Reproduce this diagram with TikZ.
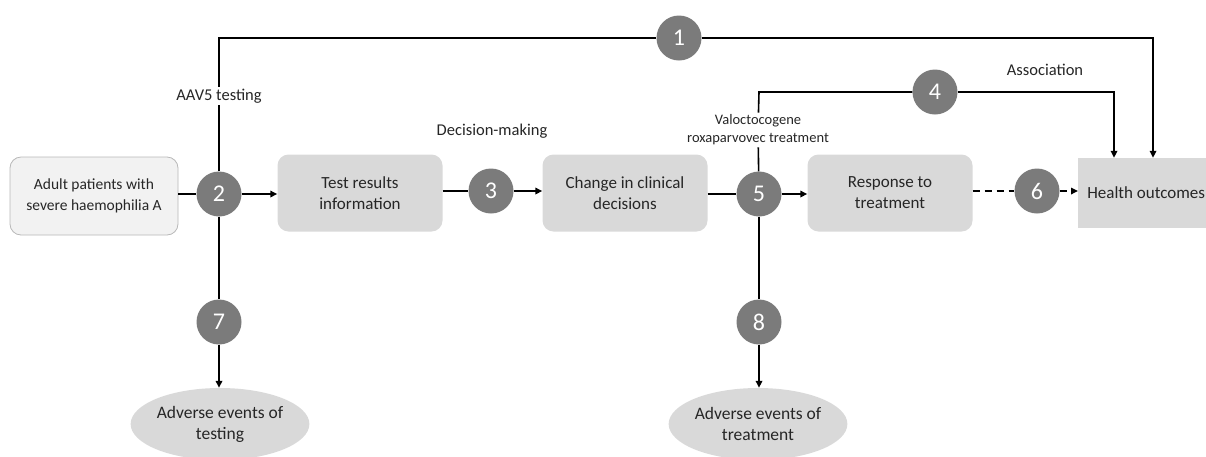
\documentclass[tikz,border=0pt]{standalone}
\usepackage{fontspec}
\setmainfont{Carlito}
\usetikzlibrary{arrows.meta,shapes.geometric}
\definecolor{boxgray}{HTML}{D9D9D9}
\definecolor{circgray}{HTML}{7B7B7B}
\definecolor{txt}{HTML}{262626}
\begin{document}
\begin{tikzpicture}[x=1pt,y=-1pt,
  box/.style={fill=boxgray,rounded corners=11pt,minimum width=165pt,minimum height=77pt,align=center,font=\fontsize{17}{21}\selectfont,text=txt},
  num/.style={circle,fill=circgray,minimum size=45pt,inner sep=0pt,text=white,font=\fontsize{24}{26}\selectfont},
  aev/.style={ellipse,fill=boxgray,minimum width=168pt,minimum height=72pt,inner sep=0pt,align=center,font=\fontsize{17.5}{21}\selectfont,text=txt},
  lbl/.style={fill=white,inner sep=2pt,align=center,text=txt,font=\fontsize{16.5}{19}\selectfont},
  conn/.style={line width=1.6pt,black},
  arr/.style={conn,-{Triangle[length=7pt,width=6.5pt]}}
]
\useasboundingbox (0,0) rectangle (1206,456);
% nodes
\node[box,fill=black!5,draw=black!28,line width=0.8pt,minimum width=168pt,minimum height=78pt,font=\fontsize{15.5}{21}\selectfont] (pat) at (94,196) {Adult patients with\\severe haemophilia A};
\node[box] (test) at (360,193) {Test results\\information};
\node[box] (chg) at (625,193) {Change in clinical\\decisions};
\node[box] (resp) at (890,193) {Response to\\treatment};
\node[box,rounded corners=0pt,minimum width=146pt,minimum height=70pt,anchor=west] (health) at (1078,193) {\hspace*{-10pt}Health outcomes};
\node[aev] (ae1) at (220,424) {Adverse events of\\testing};
\node[aev] (ae2) at (758,424) {Adverse events of\\treatment};
\node[num] (c1) at (679,38) {1};
\node[num] (c2) at (219,194) {2};
\node[num] (c3) at (491,191) {3};
\node[num] (c4) at (935,92) {4};
\node[num] (c5) at (759,194) {5};
\node[num] (c6) at (1037,191) {6};
\node[num] (c7) at (219,322) {7};
\node[num] (c8) at (759,322) {8};
\node[lbl] (aav) at (219,96) {AAV5 testing};
\node[lbl] (dec) at (492,131) {Decision-making};
\node[lbl,font=\fontsize{14.5}{18}\selectfont] (val) at (758,130) {Valoctocogene\\roxaparvovec treatment};
\node[lbl] (asc) at (1045,70) {Association};
\coordinate (k1) at (219,38);
\coordinate (k2) at (1153,38);
\coordinate (k3) at (759,92);
\coordinate (k4) at (1114,92);
% connectors
\draw[conn] (pat.east |- c2) -- (c2);
\draw[arr] (c2) -- (test.west |- c2);
\draw[conn] (test.east |- c3) -- (c3);
\draw[arr] (c3) -- (chg.west |- c3);
\draw[conn] (chg.east |- c5) -- (c5);
\draw[arr] (c5) -- (resp.west |- c5);
\draw[conn,dash pattern=on 7pt off 5pt] (resp.east |- c6) -- (c6);
\draw[arr,dash pattern=on 7pt off 5pt] (c6) -- (health.west |- c6);
\draw[conn] (c2) -- (aav);
\draw[conn] (aav) -- (k1) -- (c1);
\draw[arr] (c1) -- (k2) -- (k2 |- health.north);
\draw[conn] (c5) -- (val);
\draw[conn] (val) -- (k3) -- (c4);
\draw[arr] (c4) -- (k4) -- (k4 |- health.north);
\draw[conn] (c2) -- (c7);
\draw[arr] (c7) -- (c7 |- ae1.north);
\draw[conn] (c5) -- (c8);
\draw[arr] (c8) -- (c8 |- ae2.north);
\end{tikzpicture}
\end{document}
